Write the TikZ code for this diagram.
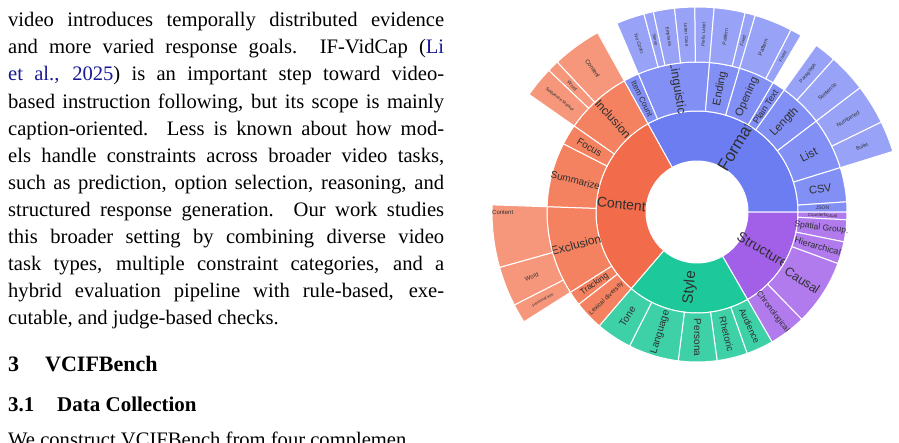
\documentclass[tikz,border=0pt]{standalone}
\usepackage{fontspec}
\setmainfont{Liberation Serif}
\newfontfamily\sunf{Liberation Sans}
\definecolor{linkc}{rgb}{0.1,0.1,0.58}
\definecolor{txc}{HTML}{2F2F2F}
\definecolor{Ca}{HTML}{F26B4A}\definecolor{Cb}{HTML}{F4815F}\definecolor{Cc}{HTML}{F6977C}
\definecolor{Fa}{HTML}{6C7DF2}\definecolor{Fb}{HTML}{8290F5}\definecolor{Fc}{HTML}{98A3F7}
\definecolor{Sa}{HTML}{A25FE8}\definecolor{Sb}{HTML}{B17BEE}
\definecolor{Ta}{HTML}{1DC99A}\definecolor{Tb}{HTML}{3ED1A8}
\tikzset{lab/.style={inner sep=0pt,text=txc},
  para/.style={anchor=base west,inner sep=0pt,font=\fontsize{20.6}{27}\selectfont}}
\newcommand\seg[8]{%
 \pgfmathsetmacro\ma{(#3+#4)/2}%
 \pgfmathsetmacro\mr{(#1+#2)/2}%
 \pgfmathsetmacro\rot{(\ma>90)?(\ma-180):((\ma<-90)?(\ma+180):\ma)}%
 \fill[#5,draw=white,line width=1pt] (#3:#1pt) arc[start angle=#3,end angle=#4,radius=#1pt] -- (#4:#2pt) arc[start angle=#4,end angle=#3,radius=#2pt] -- cycle;
 \node[lab,rotate=\rot,font=\sunf\fontsize{#7}{#7}\selectfont] (#8) at (\ma:\mr pt) {#6};
}
\begin{document}
\begin{tikzpicture}[x=1pt,y=1pt]
\useasboundingbox (0,0) rectangle (899,-442);
\def\W{436pt}
\node[para] (l1) at (8,-26.7) {\makebox[\W][s]{video introduces temporally distributed evidence}};
\node[para] (l2) at (8,-53.8) {\makebox[\W][s]{and more varied response goals.\ \ IF-VidCap (\textcolor{linkc}{Li}}};
\node[para] (l3) at (8,-80.9) {\makebox[\W][s]{\textcolor{linkc}{et al., 2025}) is an important step toward video-}};
\node[para] (l4) at (8,-108) {\makebox[\W][s]{based instruction following, but its scope is mainly}};
\node[para] (l5) at (8,-135.1) {\makebox[\W][s]{caption-oriented. Less is known about how mod-}};
\node[para] (l6) at (8,-162.2) {\makebox[\W][s]{els handle constraints across broader video tasks,}};
\node[para] (l7) at (8,-189.3) {\makebox[\W][s]{such as prediction, option selection, reasoning, and}};
\node[para] (l8) at (8,-216.4) {\makebox[\W][s]{structured response generation. Our work studies}};
\node[para] (l9) at (8,-243.5) {\makebox[\W][s]{this broader setting by combining diverse video}};
\node[para] (l10) at (8,-270.6) {\makebox[\W][s]{task types, multiple constraint categories, and a}};
\node[para] (l11) at (8,-297.7) {\makebox[\W][s]{hybrid evaluation pipeline with rule-based, exe-}};
\node[para] (l12) at (8,-324.8) {cutable, and judge-based checks.};
\node[para,font=\fontsize{22}{26}\selectfont\bfseries] (h1n) at (8,-371.7) {3};
\node[para,font=\fontsize{22}{26}\selectfont\bfseries] (h1) at (45,-371.7) {VCIFBench};
\node[para,font=\fontsize{21}{26}\selectfont\bfseries] (h2n) at (8,-411.7) {3.1};
\node[para,font=\fontsize{21}{26}\selectfont\bfseries] (h2) at (57,-411.7) {Data Collection};
\node[para] (l13) at (8,-446) {We construct VCIFBench from four complemen};
\begin{scope}[shift={(697,-212)}]
% ring 1
\seg{51}{101}{119}{229.4}{Ca}{Content}{14}{cont}
\seg{51}{101}{0}{119}{Fa}{Format}{17}{form}
\seg{51}{101}{-60}{0}{Sa}{Structure}{14}{stru}
\seg{51}{101}{-130.6}{-60}{Ta}{Style}{15}{styl}
% ring 2
\seg{101}{150}{119}{145}{Cb}{Inclusion}{12}{incl}
\seg{101}{150}{145}{153}{Cb}{Focus}{10}{focu}
\seg{101}{150}{153}{178}{Cb}{Summarize}{10}{summ}
\seg{101}{150}{178}{212.4}{Cb}{Exclusion}{12}{excl}
\seg{101}{150}{212.4}{218}{Cb}{Tracking}{8.5}{trac}
\seg{101}{150}{218}{229.4}{Cb}{Lexical diversity}{6.3}{lexi}
\seg{101}{150}{113}{119}{Fb}{Item Count}{8}{item}
\seg{101}{150}{85.2}{113}{Fb}{Linguistic}{12.5}{ling}
\seg{101}{150}{73.5}{85.2}{Fb}{Ending}{11}{endi}
\seg{101}{150}{59.5}{73.5}{Fb}{Opening}{11}{open}
\seg{101}{150}{54.4}{59.5}{Fb}{Plain Text}{9}{plai}
\seg{101}{150}{37.3}{54.4}{Fb}{Length}{11.5}{leng}
\seg{101}{150}{17.2}{37.3}{Fb}{List}{11.5}{list}
\seg{101}{150}{3.9}{17.2}{Fb}{CSV}{11}{csv}
\seg{101}{150}{0}{3.9}{Fb}{JSON}{5}{json}
\seg{101}{150}{-3}{0}{Sb}{Counterfactual}{4.5}{coun}
\seg{101}{150}{-11.5}{-3}{Sb}{Spatial Group.}{8.5}{spat}
\seg{101}{150}{-20.1}{-11.5}{Sb}{Hierarchical}{9}{hier}
\seg{101}{150}{-45.7}{-20.1}{Sb}{Causal}{12.5}{caus}
\seg{101}{150}{-60}{-45.7}{Sb}{Chronological}{8}{chro}
\seg{101}{150}{-70.5}{-60}{Tb}{Audience}{9}{audi}
\seg{101}{150}{-82.3}{-70.5}{Tb}{Rhetoric}{9.5}{rhet}
\seg{101}{150}{-97.2}{-82.3}{Tb}{Persona}{10}{pers}
\seg{101}{150}{-116.7}{-97.2}{Tb}{Language}{10}{lang}
\seg{101}{150}{-130.6}{-116.7}{Tb}{Tone}{10}{tone}
% ring 3
\seg{150}{205}{119}{133}{Cc}{Content}{6}{icon}
\seg{150}{205}{133}{136.3}{Cc}{Word}{5}{iwor}
\seg{150}{205}{136.3}{145}{Cc}{Sequence Marker}{4.5}{iseq}
\seg{150}{205}{178}{195.7}{Cc}{}{6}{econ}
\seg{150}{205}{195.7}{207}{Cc}{Word}{6}{ewor}
\seg{150}{205}{207}{212.4}{Cc}{Personal Info}{4}{eper}
\seg{150}{205}{105}{113}{Fc}{No Contr.}{5}{nocon}
\seg{150}{205}{102.3}{105}{Fc}{Tense}{4.5}{tens}
\seg{150}{205}{96.3}{102.3}{Fc}{Emphasis}{4.5}{emph}
\seg{150}{205}{90.6}{96.3}{Fc}{Letter Case}{4.5}{lett}
\seg{150}{205}{85.2}{90.6}{Fc}{Prefix Label}{4.5}{pref}
\seg{150}{205}{76.4}{85.2}{Fc}{Pattern}{5}{epat}
\seg{150}{205}{73.5}{76.4}{Fc}{Fixed}{4.5}{efix}
\seg{150}{205}{62.7}{73.5}{Fc}{Pattern}{5.5}{opat}
\seg{150}{205}{59.5}{62.7}{Fc}{Fixed}{4.5}{ofix}
\seg{150}{205}{48.2}{54.4}{Fc}{Paragraph}{5}{parg}
\seg{150}{205}{37.3}{48.2}{Fc}{Sentence}{5.5}{sent}
\seg{150}{205}{26}{37.3}{Fc}{Numbered}{5.5}{numb}
\seg{150}{205}{17.2}{26}{Fc}{Bullet}{5}{bull}
\end{scope}
\node[lab,anchor=west,font=\sunf\fontsize{6}{6}\selectfont] (econl) at (492,-212) {Content};
\end{tikzpicture}
\end{document}
